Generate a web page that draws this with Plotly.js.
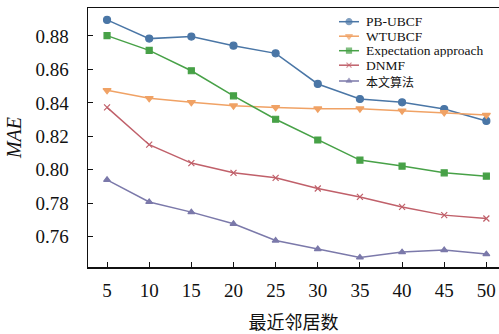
<!DOCTYPE html>
<html><head><meta charset="utf-8">
<script src="https://cdn.plot.ly/plotly-3.0.1.min.js"></script>
<style>html,body{margin:0;padding:0;background:#fff;}#chart{width:499px;height:334px;}</style>
</head><body><div id="chart"></div>
<script>
const neighbors = [5, 10, 15, 20, 25, 30, 35, 40, 45, 50];
const pbUbcf = [0.8896, 0.8784, 0.8796, 0.8742, 0.8696, 0.8513, 0.8423, 0.8403, 0.8363, 0.8292];
const wtUbcf = [0.8475, 0.8427, 0.8403, 0.8383, 0.8373, 0.8365, 0.8365, 0.8353, 0.8343, 0.8327];
const expectation = [0.8802, 0.8714, 0.8592, 0.8442, 0.8302, 0.8178, 0.8058, 0.8022, 0.7982, 0.7962];
const dnmf = [0.8373, 0.8150, 0.8040, 0.7982, 0.7952, 0.7888, 0.7838, 0.7778, 0.7729, 0.7709];
const ours = [0.7940, 0.7808, 0.7747, 0.7677, 0.7577, 0.7526, 0.7476, 0.7508, 0.7520, 0.7496];
const seriesNames = ['PB-UBCF', 'WTUBCF', 'Expectation approach', 'DNMF', '本文算法'];
const yTicks = [0.76, 0.78, 0.80, 0.82, 0.84, 0.86, 0.88];

const serif = 'Liberation Serif';
const cjk = 'Noto Sans CJK SC';
const specs = [
  {y: pbUbcf, color: '#4a76a6', symbol: 'circle', size: 7},
  {y: wtUbcf, color: '#f0a265', symbol: 'triangle-down', size: 7},
  {y: expectation, color: '#47a147', symbol: 'square', size: 6},
  {y: dnmf, color: '#c0606a', symbol: 'x-thin-open', size: 6},
  {y: ours, color: '#7b79aa', symbol: 'triangle-up', size: 6}
];
const traces = specs.map((s, i) => ({
  x: neighbors, y: s.y, name: seriesNames[i], type: 'scatter', mode: 'lines+markers',
  line: {color: s.color, width: 1.5},
  marker: {color: s.color, symbol: s.symbol, size: s.size, line: {color: s.color, width: 1.2}},
  showlegend: false
}));

// Custom compact legend drawn on a pixel-scaled overlay axis pair
const legX0 = 339, legX1 = 359, legTextX = 364;
const legRows = [21.7, 36.2, 50.7, 65.2, 81];
const annotations = [];
specs.forEach((s, i) => {
  const yy = legRows[i];
  traces.push({
    x: [legX0, (legX0 + legX1) / 2, legX1], y: [yy, yy, yy], xaxis: 'x2', yaxis: 'y2',
    type: 'scatter', mode: 'lines+markers', showlegend: false, hoverinfo: 'skip',
    line: {color: s.color, width: 1.5},
    marker: {color: s.color, symbol: s.symbol, size: [0, s.size - 1, 0], line: {color: s.color, width: 1.2}}
  });
  annotations.push({
    x: legTextX, y: yy, xref: 'x2', yref: 'y2', xanchor: 'left', yanchor: 'middle',
    text: seriesNames[i], showarrow: false, height: 13,
    font: {family: i === 4 ? cjk : serif, size: i === 4 ? 12 : 13.5, color: '#111'}
  });
});

const layout = {
  width: 499, height: 334,
  margin: {l: 88, r: 0, t: 8, b: 67},
  font: {family: serif, color: '#111'},
  paper_bgcolor: '#fff', plot_bgcolor: 'rgba(0,0,0,0)',
  showlegend: false,
  annotations: annotations,
  xaxis: {
    range: [2.74, 51.5], tickvals: neighbors, ticktext: neighbors.map(String),
    ticks: 'inside', ticklen: 5, tickcolor: '#111', showgrid: false, zeroline: false,
    showline: true, linecolor: '#111', linewidth: 1.5, mirror: true,
    tickfont: {family: serif, size: 19, color: '#111'}, ticklabelstandoff: 6,
    title: {text: '最近邻居数', font: {family: cjk, size: 18, color: '#111'}, standoff: 16}
  },
  yaxis: {
    range: [0.7419, 0.8967], tickvals: yTicks, ticktext: yTicks.map(v => v.toFixed(2)),
    ticks: 'inside', ticklen: 5, tickcolor: '#111', showgrid: false, zeroline: false,
    showline: true, linecolor: '#111', linewidth: 1.5,
    tickfont: {family: serif, size: 19, color: '#111'}, ticklabelstandoff: 14,
    title: {text: '<i>MAE</i>', font: {family: serif, size: 20, color: '#111'}, standoff: 8}
  },
  xaxis2: {overlaying: 'x', anchor: 'y2', range: [88, 499], visible: false, fixedrange: true},
  yaxis2: {overlaying: 'y', anchor: 'x2', range: [267, 8], visible: false, fixedrange: true}
};
Plotly.newPlot('chart', traces, layout, {displayModeBar: false, staticPlot: true});
</script>
</body></html>
